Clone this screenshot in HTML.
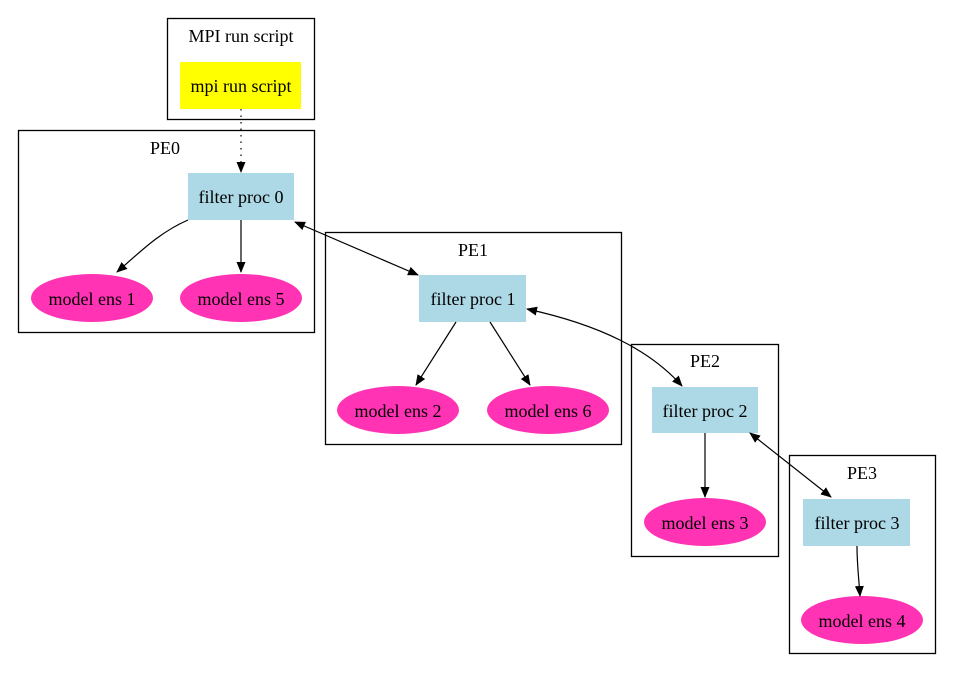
<!DOCTYPE html>
<html><head><style>html,body{margin:0;padding:0;background:#fff}svg{display:block}</style></head>
<body>
<svg width="954" height="682" viewBox="0 0 954 682" xmlns="http://www.w3.org/2000/svg" font-family="Liberation Serif, serif" font-size="18">
<defs>
<marker id="a" markerWidth="11" markerHeight="9" refX="10" refY="4.5" orient="auto-start-reverse" markerUnits="userSpaceOnUse">
<path d="M0,0 L11,4.5 L0,9 z" fill="#000"/></marker>
</defs>
<g fill="none" stroke="#000" stroke-width="1.3">
<rect x="167.5" y="18.5" width="147" height="101"/>
<rect x="18.5" y="130.5" width="296" height="202"/>
<rect x="325.5" y="232.5" width="296" height="212"/>
<rect x="631.5" y="344.5" width="147" height="212"/>
<rect x="789.5" y="455.5" width="146" height="198"/>
</g>
<rect x="180" y="62" width="121" height="47" fill="#ffff00"/>
<rect x="188" y="173" width="106" height="47" fill="#add8e6"/>
<rect x="419" y="275" width="107" height="47" fill="#add8e6"/>
<rect x="652" y="387" width="106" height="46" fill="#add8e6"/>
<rect x="803" y="499" width="107" height="47" fill="#add8e6"/>
<g fill="#ff33b4">
<ellipse cx="92" cy="298" rx="61" ry="24"/>
<ellipse cx="241" cy="298" rx="61" ry="24"/>
<ellipse cx="398" cy="410" rx="61" ry="24"/>
<ellipse cx="548" cy="410" rx="61" ry="24"/>
<ellipse cx="705" cy="522" rx="61" ry="24"/>
<ellipse cx="862" cy="620" rx="61" ry="24"/>
</g>
<g fill="none" stroke="#000" stroke-width="1.2">
<path d="M241,109 L241,172" stroke-dasharray="1.5,5" marker-end="url(#a)"/>
<path d="M188,220 C160,232 140,252 117,272" marker-end="url(#a)"/>
<path d="M241,220 L241,272" marker-end="url(#a)"/>
<path d="M295,222 L418,275" marker-start="url(#a)" marker-end="url(#a)"/>
<path d="M456,322 L416,385" marker-end="url(#a)"/>
<path d="M490,322 L530,385" marker-end="url(#a)"/>
<path d="M527,309 C600,325 650,350 682,386" marker-start="url(#a)" marker-end="url(#a)"/>
<path d="M705,433 L705,497" marker-end="url(#a)"/>
<path d="M750,433 L831,497" marker-start="url(#a)" marker-end="url(#a)"/>
<path d="M857,546 C857,565 859,580 860,596" marker-end="url(#a)"/>
</g>
<g text-anchor="middle" fill="#000">
<text x="241" y="42">MPI run script</text>
<text x="241" y="92">mpi run script</text>
<text x="165" y="154">PE0</text>
<text x="241" y="203">filter proc 0</text>
<text x="92" y="305">model ens 1</text>
<text x="241" y="305">model ens 5</text>
<text x="473" y="256">PE1</text>
<text x="473" y="305">filter proc 1</text>
<text x="398" y="417">model ens 2</text>
<text x="548" y="417">model ens 6</text>
<text x="705" y="367">PE2</text>
<text x="705" y="417">filter proc 2</text>
<text x="705" y="529">model ens 3</text>
<text x="862" y="479">PE3</text>
<text x="857" y="529">filter proc 3</text>
<text x="862" y="627">model ens 4</text>
</g>
</svg>
</body></html>
